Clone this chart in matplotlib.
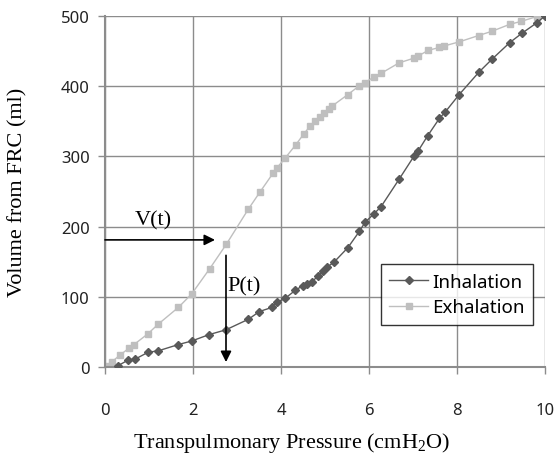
import matplotlib
matplotlib.use("Agg")
import matplotlib.pyplot as plt

INHALE_P = [0.3, 0.53, 0.68, 0.98, 1.21, 1.67, 1.97, 2.36, 2.75, 3.26, 3.51, 3.8, 3.9, 4.1,
            4.32, 4.5, 4.6, 4.7, 4.83, 4.96, 5.04, 5.2, 5.52, 5.78, 5.91, 6.11, 6.27, 6.68,
            7.02, 7.12, 7.33, 7.6, 7.73, 8.05, 8.5, 8.79, 9.2, 9.47, 9.81, 10.0]
INHALE_V = [2, 10, 11, 21, 23, 32, 37, 46, 53, 68, 79, 85, 92, 98,
            109, 116, 118, 121, 129, 137, 142, 149, 170, 193, 206, 218, 228, 267,
            300, 308, 329, 354, 363, 388, 420, 438, 462, 475, 490, 500]

EXHALE_P = [0.02, 0.15, 0.34, 0.55, 0.66, 0.97, 1.21, 1.67, 1.97, 2.38, 2.76, 3.26, 3.52,
            3.82, 3.9, 4.1, 4.33, 4.52, 4.66, 4.78, 4.88, 4.98, 5.08, 5.17, 5.52, 5.77,
            5.91, 6.11, 6.27, 6.68, 7.03, 7.12, 7.35, 7.6, 7.7, 8.05, 8.49, 8.79, 9.2,
            9.45, 9.81]
EXHALE_V = [2, 7, 17, 27, 32, 47, 61, 85, 104, 140, 175, 225, 249,
            276, 283, 298, 316, 332, 343, 350, 356, 362, 367, 372, 388, 400,
            405, 413, 418, 433, 440, 443, 451, 455, 457, 463, 472, 478, 488,
            492, 499]

X_TICKS = [0, 2, 4, 6, 8, 10]
Y_TICKS = [0, 100, 200, 300, 400, 500]

# arrow annotation anchor values
V_ARROW = (0.0, 2.5, 181)     # x start, x end, volume
P_ARROW = (2.75, 159, 7)      # pressure, volume start, volume end

GRID = "#8c8c8c"
SERIF = "Liberation Serif"
SANS = "Noto Sans"

fig = plt.figure(figsize=(5.57, 4.56), dpi=100)
ax = fig.add_axes([0.1885, 0.193, 0.79, 0.770])

ax.plot(INHALE_P, INHALE_V, color="#595959", lw=1.0, marker="D", ms=4.2,
        label="Inhalation", zorder=3)
ax.plot(EXHALE_P, EXHALE_V, color="#bfbfbf", lw=1.0, marker="s", ms=5,
        label="Exhalation", zorder=2)

ax.set_xlim(0, 10)
ax.set_ylim(0, 500)
ax.set_xticks(X_TICKS)
ax.set_yticks(Y_TICKS)
ax.grid(True, color=GRID, lw=1.0)
ax.set_axisbelow(True)
for side in ["top", "right"]:
    ax.spines[side].set_visible(False)
for side in ["left", "bottom"]:
    ax.spines[side].set_color(GRID)
    ax.spines[side].set_linewidth(1.5)
ax.tick_params(colors=GRID, labelcolor="#222222", length=5, width=1.0,
               labelsize=12)
ax.tick_params(axis="x", pad=20)
ax.tick_params(axis="y", pad=6)
for lab in ax.get_xticklabels() + ax.get_yticklabels():
    lab.set_family(SANS)

ax.set_xlabel(r"Transpulmonary Pressure (cmH$_\mathregular{2}$O)", family=SERIF, fontsize=16)
ax.set_ylabel("Volume from FRC (ml)", family=SERIF, fontsize=16)
ax.xaxis.label.set_verticalalignment("center")
ax.yaxis.label.set_verticalalignment("center")
ax.xaxis.set_label_coords(0.424, -0.215)
ax.yaxis.set_label_coords(-0.198, 0.5)

ax.annotate("", xy=(V_ARROW[1], V_ARROW[2]), xytext=(V_ARROW[0], V_ARROW[2]),
            arrowprops=dict(arrowstyle="-|>", color="black", lw=1.2, mutation_scale=16,
                            shrinkA=0, shrinkB=0), zorder=4)
ax.text(1.1, 210, "V(t)", family=SERIF, fontsize=16, ha="center", va="center")
ax.annotate("", xy=(P_ARROW[0], P_ARROW[2]), xytext=(P_ARROW[0], P_ARROW[1]),
            arrowprops=dict(arrowstyle="-|>", color="black", lw=1.2, mutation_scale=16,
                            shrinkA=0, shrinkB=0), zorder=4)
ax.text(2.79, 116, "P(t)", family=SERIF, fontsize=16, ha="left", va="center")

leg = ax.legend(loc="lower right", bbox_to_anchor=(0.973, 0.12),
                prop={"family": SANS, "size": 13.5}, frameon=True, fancybox=False,
                edgecolor="black", handlelength=2.1, borderpad=0.45,
                labelspacing=0.4, handletextpad=0.2, borderaxespad=0)
leg.get_frame().set_linewidth(1.0)

fig.savefig("out.png", dpi=100)
